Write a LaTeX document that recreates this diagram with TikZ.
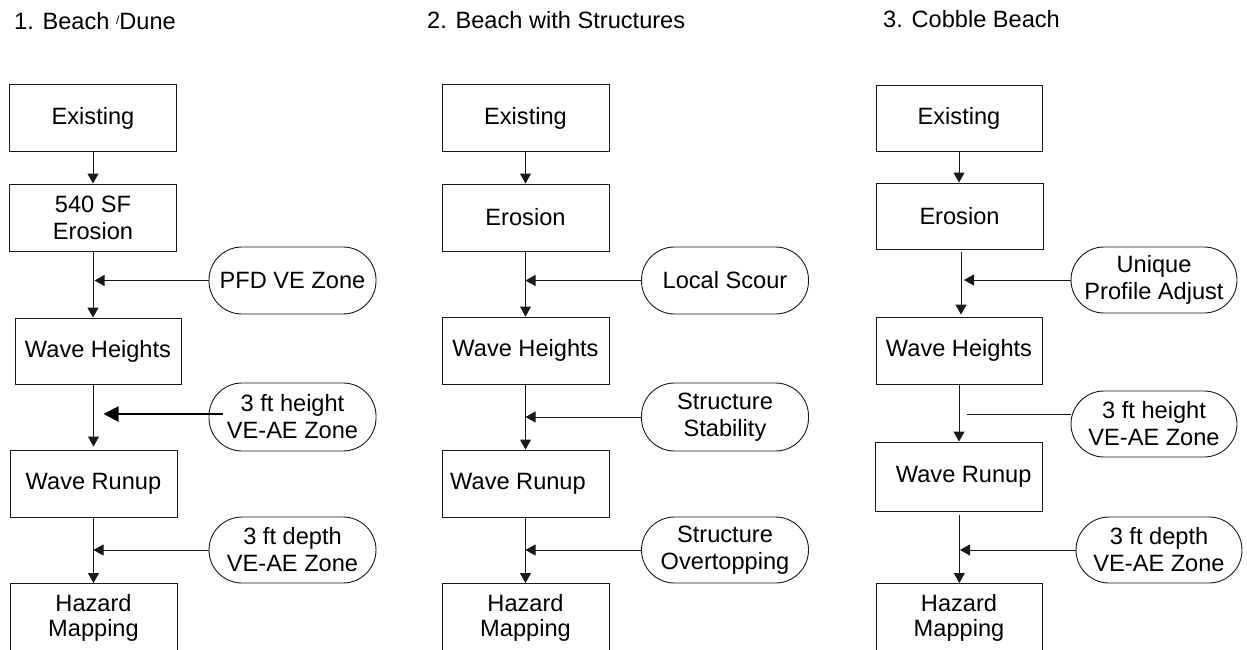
\documentclass[tikz,border=0pt]{standalone}
\usepackage{fontspec}
\setmainfont{Liberation Sans}
\usetikzlibrary{arrows.meta,calc}
\begin{document}
\begin{tikzpicture}[x=1pt,y=-1pt,
  every node/.style={font=\fontsize{23.6}{27}\selectfont, text=black},
  box/.style={draw=black!90, line width=0.9pt, rectangle, minimum width=167pt, minimum height=67pt, inner sep=0pt, align=center},
  hazbox/.style={box, minimum height=0pt, anchor=north, inner xsep=0pt, inner ysep=11pt, text depth=60pt, font=\fontsize{23.6}{24.5}\selectfont},
  pill/.style={draw=black!90, line width=0.9pt, rectangle, rounded corners=33pt, minimum width=167pt, minimum height=67pt, inner sep=0pt, align=center},
  conn/.style={draw=black!90, line width=0.9pt},
  arr/.style={conn, -{Triangle[length=10pt,width=11pt]}},
  thickarr/.style={draw=black, line width=2pt, -{Triangle[length=15pt,width=15pt]}},
  hdr/.style={anchor=base west, inner sep=0pt}
]
\useasboundingbox (0,0) rectangle (1247,649);

% headers
\node[hdr] (t1) at (14,29) {1. Beach \raisebox{5pt}{\fontsize{12}{12}\selectfont/}Dune};
\node[hdr] (t2) at (427,28) {2. Beach with Structures};
\node[hdr] (t3) at (883,27) {3. Cobble Beach};

% ---------- column 1 ----------
\node[box] (e1) at (93,118) {Existing};
\node[box] (s1) at (93,217.5) {540 SF\\Erosion};
\node[box, minimum width=166pt, minimum height=66pt] (w1) at (98,351) {Wave Heights};
\node[box] (r1) at (93.5,483.5) {Wave Runup};
\node[hazbox] (h1) at (93.5,583) {Hazard\\Mapping};
\node[pill] (p1a) at (292.5,280.5) {PFD VE Zone};
\node[pill, minimum height=68pt] (p1b) at (292.5,417) {3 ft height\\VE-AE Zone};
\node[pill, minimum height=66pt] (p1c) at (292.5,550) {3 ft depth\\VE-AE Zone};

\draw[arr] (e1.south) -- (s1.north);
\draw[arr] (s1.south) -- (s1.south |- w1.north);
\draw[arr] (p1a.west) -- ($(s1.south |- p1a.west)+(1.5,0)$);
\draw[arr] (r1.north |- w1.south) -- ($(r1.north)+(0,-3)$);
\draw[thickarr] ($(p1b.west)+(14,-3)$) -- ($(r1.north |- p1b.west)+(10,-3)$);
\draw[arr] (r1.south) -- (h1.north);
\draw[arr] (p1c.west) -- (r1.south |- p1c.west);

% ---------- column 2 ----------
\node[box] (e2) at (525.5,118) {Existing};
\node[box] (s2) at (525.5,217.5) {Erosion};
\node[box] (w2) at (525.5,350.5) {Wave Heights};
\node[box] (r2) at (525.5,483.5) {\hspace*{-15pt}Wave Runup};
\node[hazbox] (h2) at (525.5,583) {Hazard\\Mapping};
\node[pill] (p2a) at (725,280.5) {Local Scour};
\node[pill, minimum height=68pt] (p2b) at (725,417) {Structure\\Stability};
\node[pill, minimum height=66pt] (p2c) at (725,550) {Structure\\Overtopping};

\draw[arr] (e2.south) -- (s2.north);
\draw[arr] (s2.south) -- (w2.north);
\draw[arr] (p2a.west) -- (s2.south |- p2a.west);
\draw[arr] (w2.south) -- (r2.north);
\draw[arr] (p2b.west) -- (w2.south |- p2b.west);
\draw[arr] (r2.south) -- (h2.north);
\draw[arr] (p2c.west) -- (r2.south |- p2c.west);

% ---------- column 3 ----------
\node[box, minimum width=166pt, minimum height=66pt] (e3) at (959,118) {Existing};
\node[box, minimum height=66pt] (s3) at (959.5,216) {Erosion};
\node[box, minimum width=166pt] (w3) at (959,350.5) {Wave Heights};
\node[box, minimum height=69pt] (r3) at (958.7,476.5) {\hspace*{10pt}Wave Runup};
\node[hazbox, minimum width=166pt] (h3) at (959,583) {Hazard\\Mapping};
\node[pill, minimum width=166pt, minimum height=66pt] (p3a) at (1154,280) {Unique\\Profile Adjust};
\node[pill, minimum width=166pt, minimum height=66pt] (p3b) at (1154,424) {3 ft height\\VE-AE Zone};
\node[pill, minimum width=166pt, minimum height=66pt] (p3c) at (1159,550) {3 ft depth\\VE-AE Zone};

\draw[arr] (e3.south) -- (e3.south |- s3.north);
\draw[arr] ($(s3.south)+(1.5,3)$) -- ($(s3.south |- w3.north)+(1.5,-2)$);
\draw[arr] (p3a.west) -- ($(s3.south |- p3a.west)+(4.5,0)$);
\draw[arr] (w3.south) -- (w3.south |- r3.north);
\draw[conn] ($(p3b.west)+(0.5,-10)$) -- ($(w3.south |- p3b.west)+(8,-10)$);
\draw[arr] ($(h3.north |- r3.south)+(0.3,4)$) -- ($(h3.north)+(0.3,0)$);
\draw[arr] (p3c.west) -- ($(h3.north |- p3c.west)+(1,0)$);
\end{tikzpicture}
\end{document}
